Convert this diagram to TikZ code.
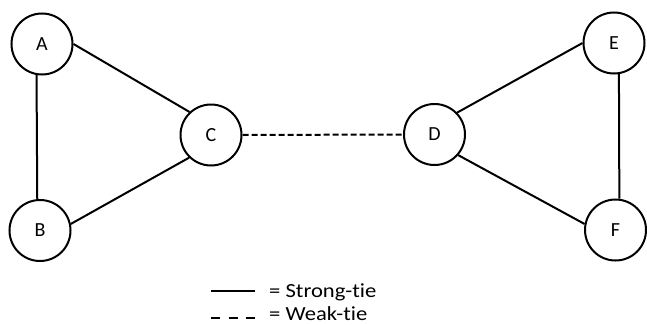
\documentclass[tikz,border=0pt]{standalone}
\usepackage{fontspec}
\setmainfont{Carlito}[Ligatures=NoCommon]
\newfontfamily\legendfont{Carlito}[FakeStretch=1.13,Ligatures=NoCommon]
\begin{document}
\begin{tikzpicture}[x=1pt,y=-1pt,
  actor/.style={circle,draw,line width=2pt,minimum size=61pt,inner sep=0pt,font=\fontsize{20}{24}\selectfont},
  tie/.style={line width=2pt},
  weaktie/.style={line width=2pt,dash pattern=on 6pt off 3pt},
  legendweak/.style={line width=2pt,dash pattern=on 9pt off 8.5pt},
  legendtext/.style={anchor=base west,inner sep=0pt,font=\legendfont\fontsize{20}{24}\selectfont}]
\useasboundingbox (0,0) rectangle (647,324);

% people in the network
\node[actor] (A) at (42,44) {A};
\node[actor] (B) at (40,230.5) {B};
\node[actor] (C) at (211,135) {C};
\node[actor] (D) at (434.5,134.5) {D};
\node[actor] (E) at (614,43) {E};
\node[actor] (F) at (615.5,230) {F};

% strong ties within each group
\draw[tie] (A.260.7) -- (B.95.5);
\draw[tie] (A.east) -- (C.133);
\draw[tie] (B.12) -- (C.226);
\draw[tie] (D.44) -- (E.west);
\draw[tie] (D.-41) -- (F.169);
\draw[tie] (E.279.3) -- (F.83.5);

% weak tie bridging the groups
\draw[weaktie] (C.east) -- (D.west);

% legend
\coordinate (s1) at (211,291);
\coordinate (s2) at (255,291);
\coordinate (w1) at (211,318);
\coordinate (w2) at (255,318);
\draw[tie] (s1) -- (s2);
\draw[legendweak] (w1) -- (w2);
\node[legendtext] (strong) at (269,297) {= Strong-tie};
\node[legendtext] (weak) at (269,320.7) {= Weak-tie};
\end{tikzpicture}
\end{document}
